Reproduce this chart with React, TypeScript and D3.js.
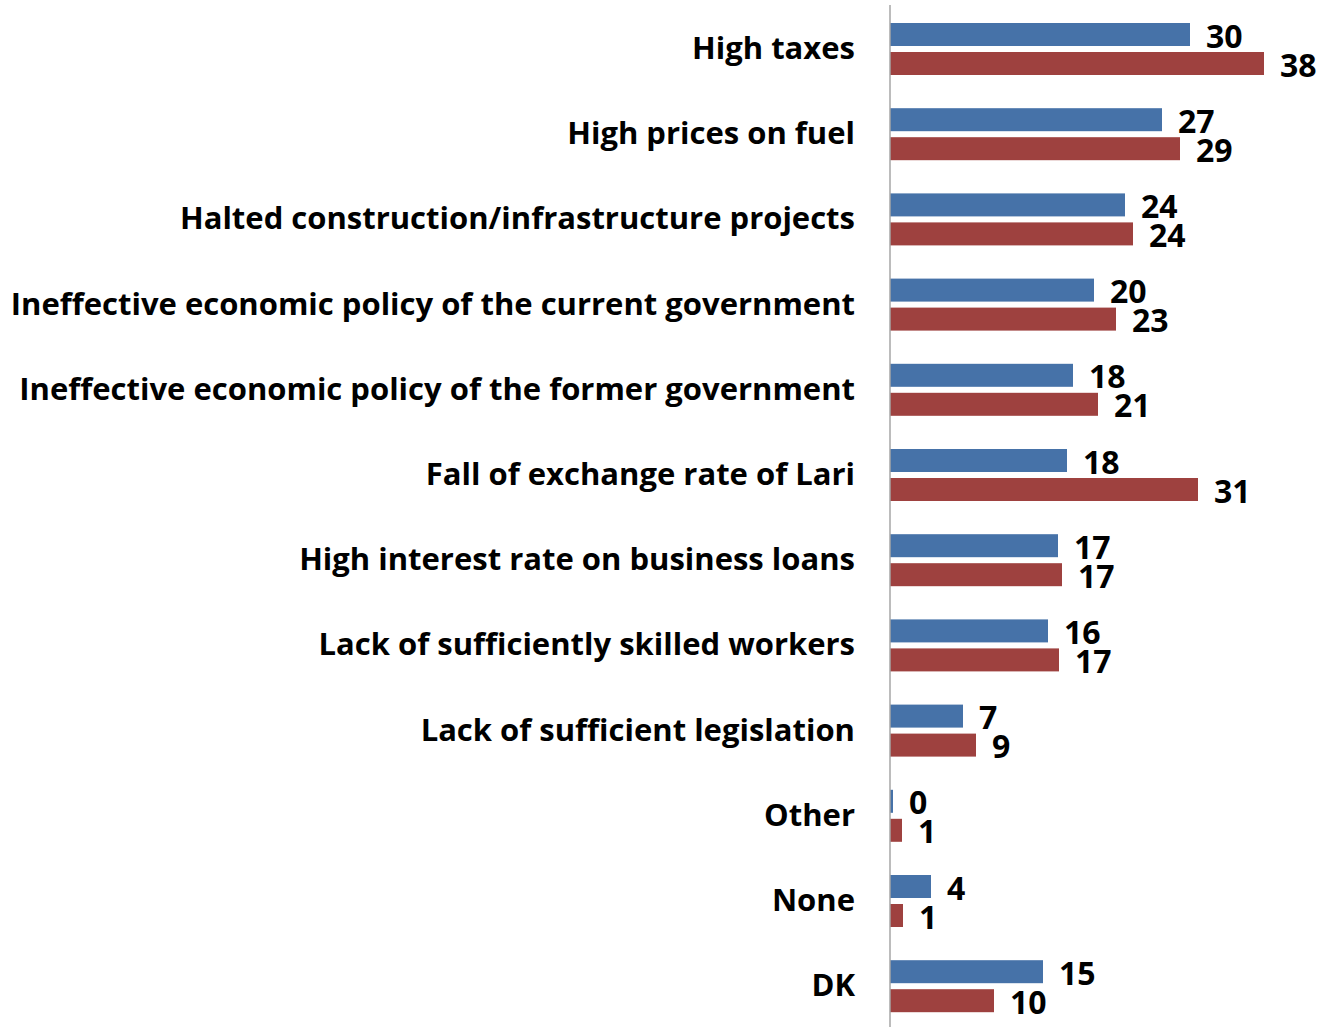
import React from "react";
import * as d3 from "d3";

const categories = [
  "High taxes",
  "High prices on fuel",
  "Halted construction/infrastructure projects",
  "Ineffective economic policy of the current government",
  "Ineffective economic policy of the former government",
  "Fall of exchange rate of Lari",
  "High interest rate on business loans",
  "Lack of sufficiently skilled workers",
  "Lack of sufficient legislation",
  "Other",
  "None",
  "DK",
];

const seriesBlue = [30.0, 27.2, 23.5, 20.4, 18.3, 17.7, 16.8, 15.8, 7.3, 0.3, 4.1, 15.3];
const seriesRed = [37.4, 29.0, 24.3, 22.6, 20.8, 30.8, 17.2, 16.9, 8.6, 1.2, 1.3, 10.4];
const labelsBlue = ["30", "27", "24", "20", "18", "18", "17", "16", "7", "0", "4", "15"];
const labelsRed = ["38", "29", "24", "23", "21", "31", "17", "17", "9", "1", "1", "10"];

const W = 1321;
const H = 1027;
const FONT = "'Open Sans', sans-serif";

export default function App() {
  const x = d3.scaleLinear().domain([0, 40]).range([890, 1290]);
  const y = d3.scaleBand<string>().domain(categories).range([6.4, 1028.8]).padding(0);
  const barH = 23;
  const gap = 3;

  return (
    <svg
      width={W}
      height={H}
      style={{ position: "absolute", left: 0, top: 0, background: "#fff" }}
      fontFamily={FONT}
    >
      {categories.map((c, i) => {
        const cy = (y(c) ?? 0) + y.bandwidth() / 2;
        return (
          <g key={c}>
            <text
              x={855}
              y={cy - 2}
              textAnchor="end"
              dominantBaseline="central"
              fontSize={31}
              fontWeight={700}
              fill="#000"
            >
              {c}
            </text>
            <rect
              x={x(0)}
              y={cy - gap - barH}
              width={x(seriesBlue[i]) - x(0)}
              height={barH}
              fill="#4672a8"
            />
            <rect
              x={x(0)}
              y={cy + gap}
              width={x(seriesRed[i]) - x(0)}
              height={barH}
              fill="#9e413f"
            />
            <text
              x={x(seriesBlue[i]) + 16}
              y={cy - gap - barH / 2 + 0.5}
              dominantBaseline="central"
              fontSize={32}
              fontWeight={700}
              fill="#000"
            >
              {labelsBlue[i]}
            </text>
            <text
              x={x(seriesRed[i]) + 16}
              y={cy + gap + barH / 2 + 0.5}
              dominantBaseline="central"
              fontSize={32}
              fontWeight={700}
              fill="#000"
            >
              {labelsRed[i]}
            </text>
          </g>
        );
      })}
      <line x1={890} x2={890} y1={5} y2={1027} stroke="#a6a6a6" strokeWidth={1.5} />
    </svg>
  );
}
